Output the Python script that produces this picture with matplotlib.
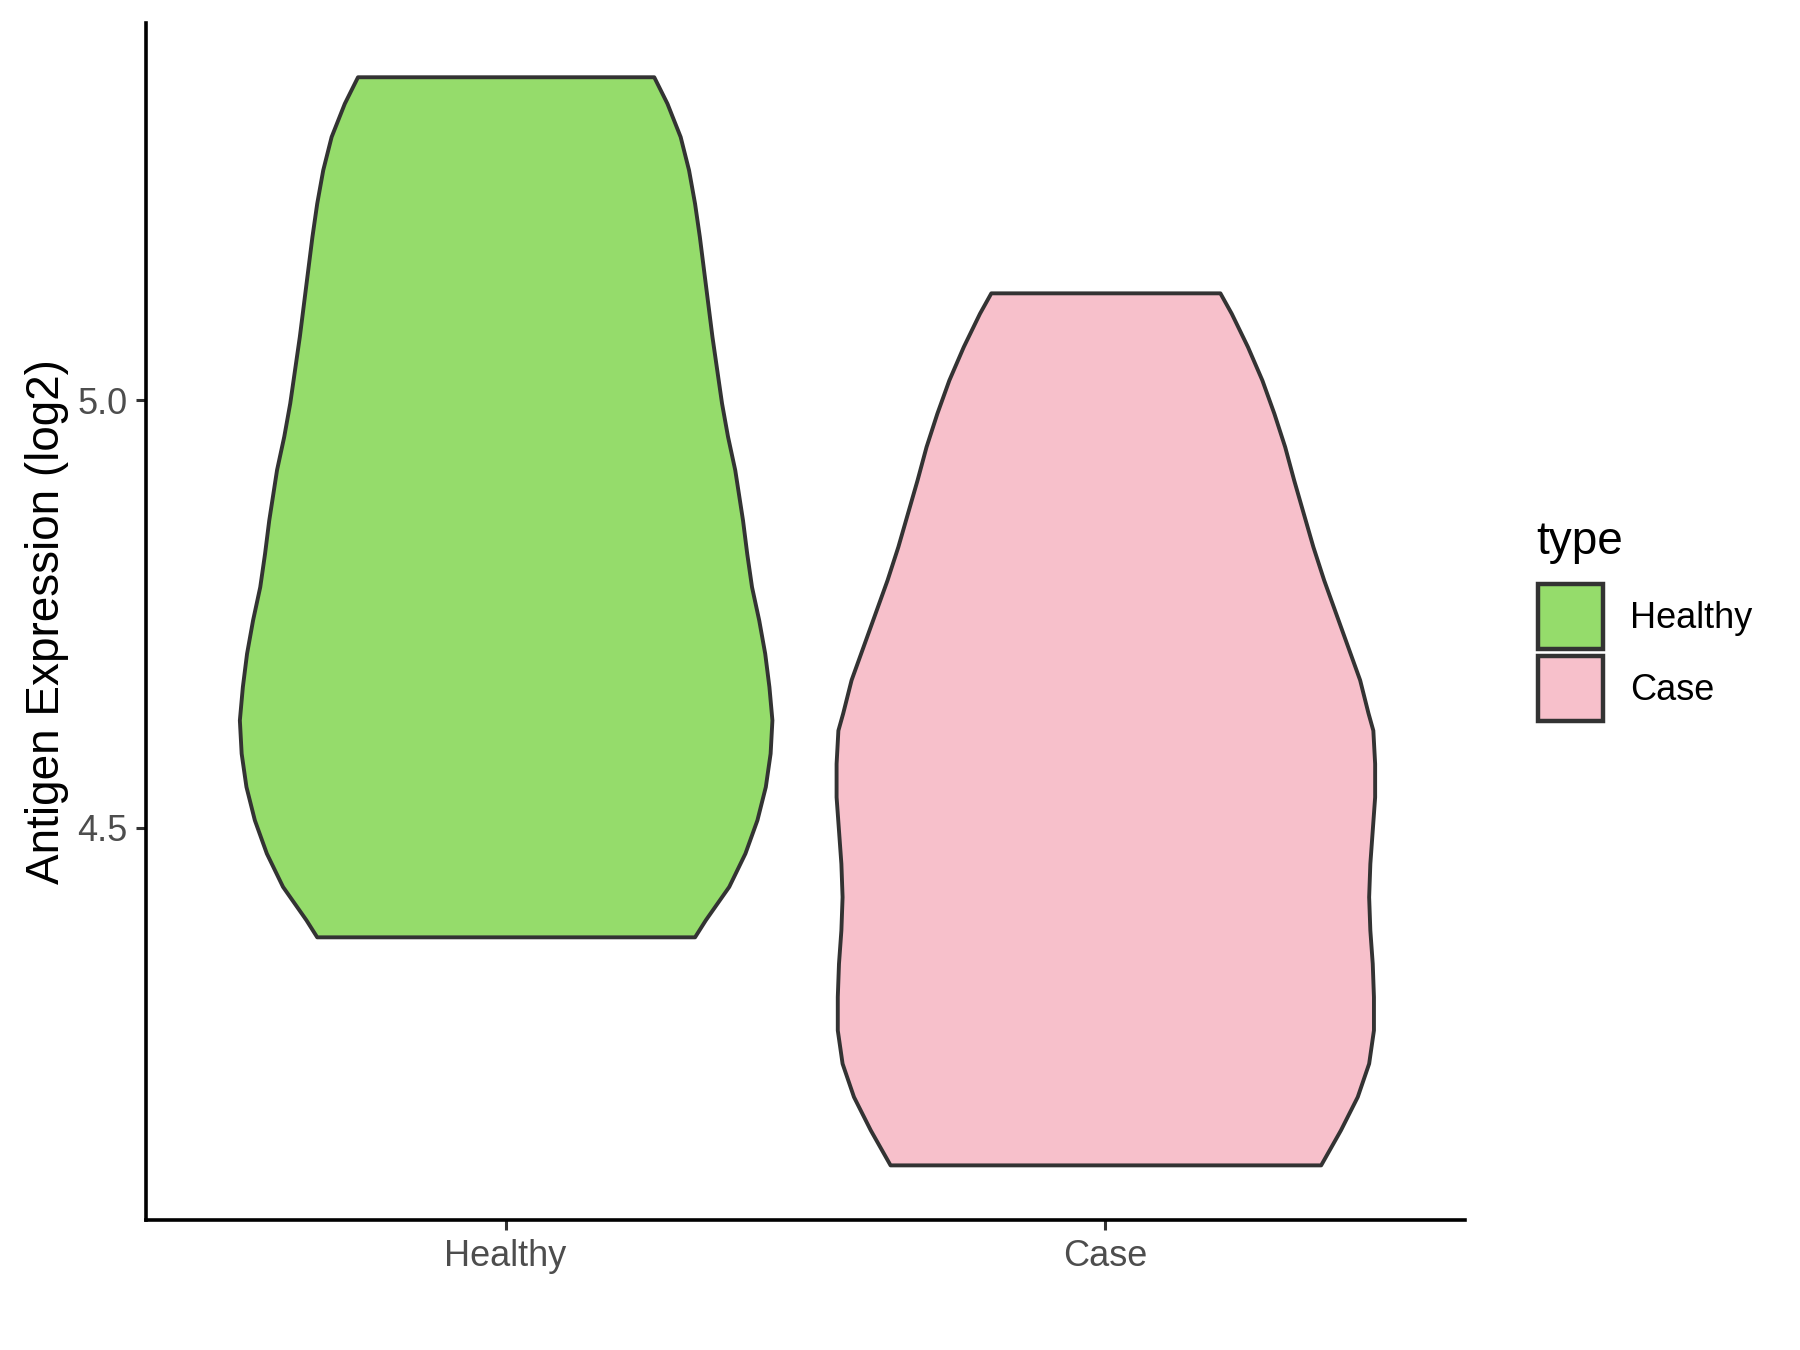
import matplotlib
matplotlib.use("Agg")
import matplotlib.pyplot as plt
from matplotlib.patches import Patch
import numpy as np

plt.rcParams['font.family'] = ['Liberation Sans', 'DejaVu Sans']

groups = ["Healthy", "Case"]
fills = ["#95DC6B", "#F7C0CB"]

# violin outlines: y value and half width (x units)
healthy_y = [5.379, 5.348, 5.309, 5.270, 5.231, 5.192, 5.153, 5.114, 5.075, 5.036,
             4.997, 4.958, 4.919, 4.860, 4.821, 4.782, 4.743, 4.704, 4.665, 4.626,
             4.587, 4.548, 4.509, 4.470, 4.431, 4.392, 4.372]
healthy_w = [0.247, 0.269, 0.291, 0.305, 0.315, 0.323, 0.330, 0.337, 0.344, 0.352,
             0.360, 0.370, 0.382, 0.395, 0.402, 0.410, 0.422, 0.432, 0.439, 0.444,
             0.441, 0.433, 0.419, 0.399, 0.372, 0.333, 0.315]

case_y = [5.126, 5.102, 5.063, 5.024, 4.985, 4.946, 4.907, 4.868, 4.829, 4.790,
          4.751, 4.712, 4.673, 4.634, 4.614, 4.575, 4.536, 4.497, 4.458, 4.419,
          4.380, 4.341, 4.302, 4.263, 4.224, 4.185, 4.146, 4.105]
case_w = [0.191, 0.210, 0.237, 0.261, 0.281, 0.299, 0.314, 0.330, 0.346, 0.364,
          0.384, 0.404, 0.424, 0.438, 0.446, 0.449, 0.449, 0.445, 0.441, 0.439,
          0.441, 0.445, 0.447, 0.447, 0.439, 0.420, 0.392, 0.359]

profiles = [(healthy_y, healthy_w), (case_y, case_w)]

fig = plt.figure(figsize=(9, 6.75), dpi=200)
ax = fig.add_axes([0.081, 0.096, 0.733, 0.887])

for i, (ys, ws) in enumerate(profiles):
    pos = i + 1
    ys = np.array(ys)
    ws = np.array(ws)
    ax.fill_betweenx(ys, pos - ws, pos + ws, facecolor=fills[i],
                     edgecolor="#333333", linewidth=1.4, joinstyle="round")

ax.set_xlim(0.4, 2.6)
ax.set_ylim(4.040, 5.442)
ax.set_xticks([1, 2])
ax.set_xticklabels(groups)
ax.set_yticks([4.5, 5.0])
ax.set_yticklabels(["4.5", "5.0"])
ax.set_ylabel("Antigen Expression (log2)", fontsize=16.5, color="black", labelpad=3)

for s in ["top", "right"]:
    ax.spines[s].set_visible(False)
for s in ["left", "bottom"]:
    ax.spines[s].set_linewidth(1.3)
    ax.spines[s].set_color("black")
ax.tick_params(axis="both", length=3.7, width=1.1, color="#333333",
               labelcolor="#4D4D4D", labelsize=13, pad=3)

# legend: title as its own text so the gap above the keys matches
fig.text(0.8533, 0.5893, "type", fontsize=16.5, ha="left", va="baseline")
handles = [Patch(facecolor=fills[i], edgecolor="#333333", linewidth=1.6, label=g)
           for i, g in enumerate(groups)]
fig.legend(handles=handles, loc="upper left",
           bbox_to_anchor=(0.8546, 0.5672), frameon=False, fontsize=13,
           handlelength=1.8, handleheight=2.39,
           labelspacing=0.2, handletextpad=0.75, borderpad=0,
           borderaxespad=0)

fig.savefig("out.png", dpi=200)
